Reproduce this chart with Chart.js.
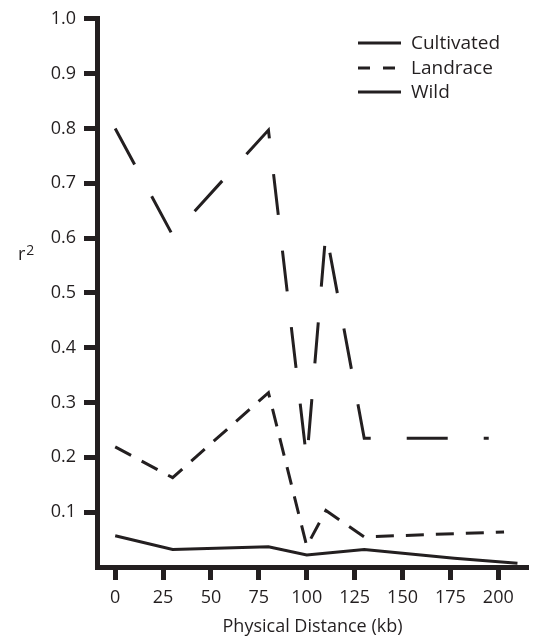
<!DOCTYPE html>
<html>
<head>
<meta charset="utf-8">
<script src="https://cdn.jsdelivr.net/npm/chart.js@4.4.1/dist/chart.umd.min.js"></script>
<style>
  html, body { margin: 0; padding: 0; background: #ffffff; }
  #wrap { width: 542px; height: 642px; position: relative; }
</style>
</head>
<body>
<div id="wrap"><canvas id="c"></canvas></div>
<script>
// ---- data ----
const seriesNames = ['Cultivated', 'Landrace', 'Wild'];
const cultivatedX = [0, 30, 80, 100, 110, 130, 195];
const cultivatedY = [0.800, 0.605, 0.797, 0.195, 0.612, 0.235, 0.235];
const landraceX = [0, 30, 80, 100, 110, 130, 203];
const landraceY = [0.219, 0.163, 0.318, 0.038, 0.103, 0.055, 0.064];
const wildX = [0, 30, 80, 100, 130, 177, 210];
const wildY = [0.057, 0.032, 0.037, 0.022, 0.032, 0.016, 0.007];
const xTickValues = [0, 25, 50, 75, 100, 125, 150, 175, 200];
const yTickValues = [0.1, 0.2, 0.3, 0.4, 0.5, 0.6, 0.7, 0.8, 0.9, 1.0];
const xAxisTitle = 'Physical Distance (kb)';
const yAxisTitleBase = 'r';
const yAxisTitleSup = '2';

const INK = '#231f20';
const FONT = '"Open Sans", "DejaVu Sans", sans-serif';

function toPoints(xs, ys) { return xs.map((x, i) => ({ x: x, y: ys[i] })); }

const legendDashes = [[], [12, 13], []];

const customDecor = {
  id: 'customDecor',
  afterDraw(chart) {
    const ctx = chart.ctx;
    ctx.save();
    // y axis title, horizontal "r" with raised "2"
    ctx.fillStyle = INK;
    ctx.textBaseline = 'alphabetic';
    ctx.textAlign = 'left';
    ctx.font = '18px ' + FONT;
    ctx.fillText(yAxisTitleBase, 18, 260);
    const rw = ctx.measureText(yAxisTitleBase).width;
    ctx.font = '14px ' + FONT;
    ctx.fillText(yAxisTitleSup, 18 + rw + 1, 255);

    // legend
    const ys = [43, 68, 92];
    chart.data.datasets.forEach((ds, i) => {
      ctx.beginPath();
      ctx.strokeStyle = ds.borderColor;
      ctx.lineWidth = ds.borderWidth;
      ctx.lineCap = 'butt';
      ctx.setLineDash(legendDashes[i]);
      ctx.moveTo(358, ys[i]);
      ctx.lineTo(401, ys[i]);
      ctx.stroke();
      ctx.setLineDash([]);
      ctx.fillStyle = INK;
      ctx.font = '19px ' + FONT;
      ctx.textBaseline = 'middle';
      ctx.fillText(ds.label, 411, ys[i] + 1);
    });
    ctx.restore();
  }
};

new Chart(document.getElementById('c'), {
  type: 'line',
  data: {
    datasets: [
      { label: seriesNames[0], data: toPoints(cultivatedX, cultivatedY), borderColor: INK, borderWidth: 3, borderDash: [41, 36], pointRadius: 0, tension: 0, fill: false },
      { label: seriesNames[1], data: toPoints(landraceX, landraceY), borderColor: INK, borderWidth: 3, borderDash: [18, 12], pointRadius: 0, tension: 0, fill: false },
      { label: seriesNames[2], data: toPoints(wildX, wildY), borderColor: INK, borderWidth: 3, borderDash: [], pointRadius: 0, tension: 0, fill: false }
    ]
  },
  options: {
    responsive: true,
    maintainAspectRatio: false,
    animation: false,
    events: [],
    layout: { padding: { left: 0, top: 15, right: 14, bottom: 0 } },
    plugins: { legend: { display: false }, tooltip: { enabled: false } },
    scales: {
      x: {
        type: 'linear',
        min: -9.5,
        max: 215.5,
        afterBuildTicks: s => { s.ticks = xTickValues.map(v => ({ value: v })); },
        afterFit: s => { s.height = 75; },
        ticks: { color: INK, font: { family: FONT, size: 18 }, padding: 7, maxRotation: 0, autoSkip: false, callback: v => String(v) },
        grid: { display: true, drawOnChartArea: false, drawTicks: true, tickLength: 13, tickWidth: 5, tickColor: INK },
        border: { display: true, width: 5, color: INK },
        title: { display: true, text: xAxisTitle, color: INK, font: { family: FONT, size: 18 }, padding: { top: 0, bottom: 4 } }
      },
      y: {
        type: 'linear',
        min: 0,
        max: 1.0,
        afterBuildTicks: s => { s.ticks = yTickValues.map(v => ({ value: v })); },
        afterFit: s => { s.width = 97; },
        ticks: { color: INK, font: { family: FONT, size: 18 }, padding: 8, callback: v => Number(v).toFixed(1) },
        grid: { display: true, drawOnChartArea: false, drawTicks: true, tickLength: 13, tickWidth: 5, tickColor: INK },
        border: { display: true, width: 5, color: INK },
        title: { display: false }
      }
    }
  },
  plugins: [customDecor]
});
</script>
</body>
</html>
